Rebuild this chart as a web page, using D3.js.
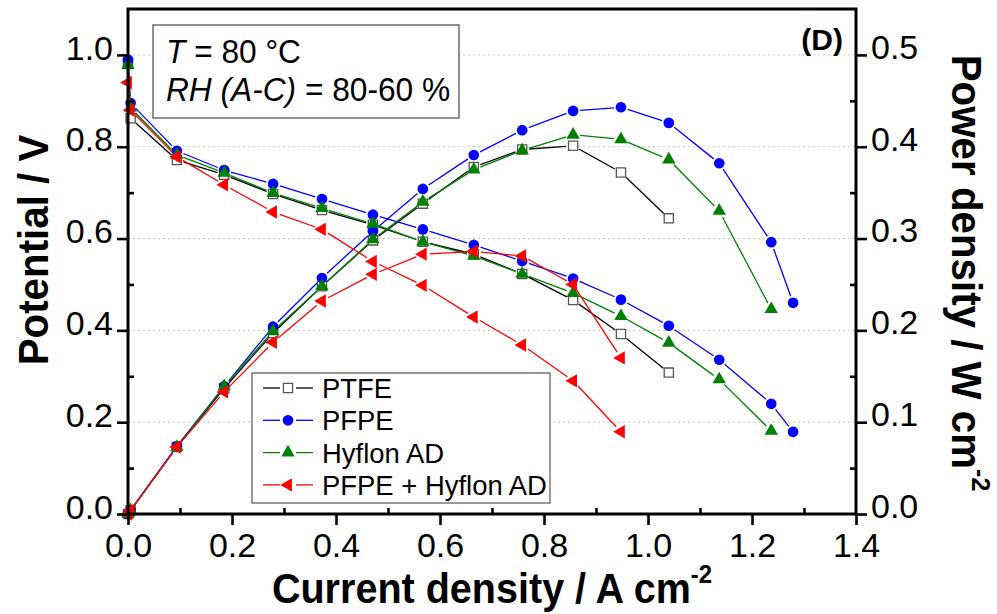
<!DOCTYPE html>
<html>
<head>
<meta charset="utf-8">
<script src="https://cdn.jsdelivr.net/npm/d3@7"></script>
<style>
  body { margin: 0; background: #fff; }
  svg { display: block; font-family: "Liberation Sans", Arial, sans-serif; }
</style>
</head>
<body>
<div id="chart"></div>
<script>
// current density (A cm-2), shared by all MEAs (shorter series stop early)
const currentDensity = [0, 0.005, 0.094, 0.185, 0.279, 0.373, 0.471, 0.567, 0.665, 0.758, 0.856, 0.948, 1.040, 1.137, 1.237, 1.279];

// cell potential (V)
const potentialPTFE   = [0.980, 0.862, 0.771, 0.739, 0.697, 0.662, 0.630, 0.593, 0.566, 0.523, 0.466, 0.392, 0.308];
const potentialPFPE   = [0.990, 0.895, 0.791, 0.749, 0.719, 0.686, 0.652, 0.620, 0.586, 0.551, 0.513, 0.467, 0.410, 0.336, 0.240, 0.179];
const potentialHyflon = [0.978, 0.885, 0.782, 0.743, 0.699, 0.666, 0.632, 0.593, 0.562, 0.523, 0.481, 0.431, 0.373, 0.293, 0.181];
const potentialMixed  = [0.940, 0.880, 0.778, 0.717, 0.658, 0.620, 0.550, 0.498, 0.429, 0.368, 0.290, 0.179];

// power density (W cm-2)
const powerPTFE   = [0, 0.004, 0.073, 0.137, 0.197, 0.248, 0.298, 0.338, 0.378, 0.397, 0.401, 0.372, 0.322];
const powerPFPE   = [0, 0.004, 0.074, 0.139, 0.204, 0.257, 0.308, 0.354, 0.391, 0.418, 0.439, 0.443, 0.426, 0.382, 0.296, 0.230];
const powerHyflon = [0, 0.004, 0.073, 0.139, 0.199, 0.248, 0.299, 0.340, 0.375, 0.396, 0.413, 0.408, 0.386, 0.330, 0.223];
const powerMixed  = [0, 0.004, 0.073, 0.133, 0.187, 0.232, 0.261, 0.283, 0.286, 0.281, 0.250, 0.170];

const seriesNames = ['PTFE', 'PFPE', 'Hyflon AD', 'PFPE + Hyflon AD'];

const xTicks = [0, 0.2, 0.4, 0.6, 0.8, 1.0, 1.2, 1.4];
const xMinorTicks = [0.1, 0.3, 0.5, 0.7, 0.9, 1.1, 1.3];
const leftTicks = [0, 0.2, 0.4, 0.6, 0.8, 1.0];
const leftMinorTicks = [0.1, 0.3, 0.5, 0.7, 0.9];
const rightTicks = [0, 0.1, 0.2, 0.3, 0.4, 0.5];
const rightMinorTicks = [0.05, 0.15, 0.25, 0.35, 0.45];

const width = 997, height = 614;
const plot = { left: 128, right: 856, top: 9, bottom: 514 };

const svg = d3.select('#chart').append('svg')
  .attr('width', width)
  .attr('height', height);

const x = d3.scaleLinear().domain([0, 1.4]).range([plot.left, plot.right]);
const yV = d3.scaleLinear().domain([0, 1.1]).range([plot.bottom, plot.top]);
const yP = d3.scaleLinear().domain([0, 0.55]).range([plot.bottom, plot.top]);

// dotted horizontal grid at the potential ticks
svg.append('g').selectAll('line')
  .data(leftTicks.filter(d => d > 0))
  .enter().append('line')
  .attr('x1', plot.left).attr('x2', plot.right)
  .attr('y1', d => yV(d)).attr('y2', d => yV(d))
  .attr('stroke', '#c8c8c8')
  .attr('stroke-width', 1)
  .attr('stroke-dasharray', '2,3');

// styles for the line+symbol series
const styles = [
  { name: seriesNames[0], color: '#000', symbol: d3.symbolSquare, size: 85, fill: '#fff', stroke: '#555', rotate: 0, V: potentialPTFE, P: powerPTFE },
  { name: seriesNames[1], color: '#0000ff', symbol: d3.symbolCircle, size: 90, fill: '#0000ff', stroke: 'none', rotate: 0, V: potentialPFPE, P: powerPFPE },
  { name: seriesNames[2], color: '#008000', symbol: d3.symbolTriangle, size: 78, fill: '#008000', stroke: 'none', rotate: 0, V: potentialHyflon, P: powerHyflon },
  { name: seriesNames[3], color: '#ff0000', symbol: d3.symbolTriangle, size: 78, fill: '#ff0000', stroke: 'none', rotate: -90, V: potentialMixed, P: powerMixed }
];

const gap = 7; // line stops short of each symbol, origin style

function segments(pts) {
  const out = [];
  for (let i = 0; i < pts.length - 1; i++) {
    const [x1, y1] = pts[i], [x2, y2] = pts[i + 1];
    const len = Math.hypot(x2 - x1, y2 - y1);
    if (len <= 2 * gap) continue;
    const ux = (x2 - x1) / len, uy = (y2 - y1) / len;
    out.push([x1 + ux * gap, y1 + uy * gap, x2 - ux * gap, y2 - uy * gap]);
  }
  return out;
}

function drawCurve(s, values, yScale) {
  const pts = values.map((v, i) => [x(currentDensity[i]), yScale(v)]);
  const g = svg.append('g');
  g.selectAll('line')
    .data(segments(pts))
    .enter().append('line')
    .attr('x1', d => d[0]).attr('y1', d => d[1])
    .attr('x2', d => d[2]).attr('y2', d => d[3])
    .attr('stroke', s.color)
    .attr('stroke-width', 1.3);
  g.selectAll('path')
    .data(pts)
    .enter().append('path')
    .attr('d', d3.symbol().type(s.symbol).size(s.size))
    .attr('transform', d => 'translate(' + d[0] + ',' + d[1] + ') rotate(' + s.rotate + ')')
    .attr('fill', s.fill)
    .attr('stroke', s.stroke)
    .attr('stroke-width', 1.3);
}

styles.forEach(s => {
  drawCurve(s, s.V, yV);
  drawCurve(s, s.P, yP);
});

// axes: major ticks outward, minor ticks inward
function styleAxis(g) {
  g.select('.domain').remove();
  g.selectAll('line').attr('stroke', '#000').attr('stroke-width', 2.6);
  g.selectAll('text').attr('font-size', 34).attr('fill', '#000')
    .attr('font-family', '"Liberation Sans", Arial, sans-serif');
}

const fmt = d3.format('.1f');

svg.append('g')
  .attr('transform', 'translate(' + plot.left + ',0)')
  .call(d3.axisLeft(yV).tickValues(leftTicks).tickFormat(fmt).tickSize(11).tickPadding(4))
  .call(styleAxis)
  .selectAll('text').attr('dy', '0.12em');
svg.append('g')
  .attr('transform', 'translate(' + plot.left + ',0)')
  .call(d3.axisLeft(yV).tickValues(leftMinorTicks).tickFormat('').tickSize(-6))
  .call(styleAxis);

svg.append('g')
  .attr('transform', 'translate(' + plot.right + ',0)')
  .call(d3.axisRight(yP).tickValues(rightTicks).tickFormat(fmt).tickSize(11).tickPadding(4))
  .call(styleAxis)
  .selectAll('text').attr('dy', '0.1em');
svg.append('g')
  .attr('transform', 'translate(' + plot.right + ',0)')
  .call(d3.axisRight(yP).tickValues(rightMinorTicks).tickFormat('').tickSize(-6))
  .call(styleAxis);

svg.append('g')
  .attr('transform', 'translate(0,' + plot.bottom + ')')
  .call(d3.axisBottom(x).tickValues(xTicks).tickFormat(fmt).tickSize(11).tickPadding(8))
  .call(styleAxis);
svg.append('g')
  .attr('transform', 'translate(0,' + plot.bottom + ')')
  .call(d3.axisBottom(x).tickValues(xMinorTicks).tickFormat('').tickSize(-6))
  .call(styleAxis);

// frame
svg.append('rect')
  .attr('x', plot.left).attr('y', plot.top)
  .attr('width', plot.right - plot.left)
  .attr('height', plot.bottom - plot.top)
  .attr('fill', 'none')
  .attr('stroke', '#000')
  .attr('stroke-width', 3);

// text helper: the original lettering is a bit narrow, so squeeze horizontally
function label(px, py, rot, sx, size, weight, anchor) {
  return svg.append('text')
    .attr('transform', 'translate(' + px + ',' + py + ') rotate(' + rot + ') scale(' + sx + ',1)')
    .attr('font-size', size)
    .attr('font-weight', weight)
    .attr('text-anchor', anchor)
    .attr('fill', '#000');
}

const xTitle = label(492, 603, 0, 0.92, 43, 'bold', 'middle');
xTitle.append('tspan').text('Current density / A cm');
xTitle.append('tspan').attr('font-size', 26).attr('dy', -20).text('-2');

label(48, 250, -90, 0.96, 42, 'bold', 'middle').text('Potential / V');

const pTitle = label(952, 273, 90, 0.96, 42, 'bold', 'middle');
pTitle.append('tspan').text('Power density / W cm');
pTitle.append('tspan').attr('font-size', 26).attr('dy', -20).text('-2');

label(843, 50, 0, 1, 30, 'bold', 'end').text('(D)');

// conditions box
svg.append('rect')
  .attr('x', 153).attr('y', 25)
  .attr('width', 306).attr('height', 93)
  .attr('fill', '#fff')
  .attr('stroke', '#555')
  .attr('stroke-width', 1.3);
const line1 = label(166, 63, 0, 0.96, 33, 'normal', 'start');
line1.append('tspan').attr('font-style', 'italic').text('T');
line1.append('tspan').text(' = 80 °C');
const line2 = label(166, 101, 0, 0.96, 33, 'normal', 'start');
line2.append('tspan').attr('font-style', 'italic').text('RH (A-C)');
line2.append('tspan').text(' = 80-60 %');

// legend
const legend = svg.append('g');
legend.append('rect')
  .attr('x', 252).attr('y', 373)
  .attr('width', 298).attr('height', 130)
  .attr('fill', '#fff')
  .attr('stroke', '#555')
  .attr('stroke-width', 1.2);

const rows = legend.selectAll('g.row')
  .data(styles)
  .enter().append('g')
  .attr('class', 'row')
  .attr('transform', (d, i) => 'translate(0,' + (388 + i * 32.3) + ')');
rows.append('line')
  .attr('x1', 263).attr('x2', 280).attr('y1', 0).attr('y2', 0)
  .attr('stroke', d => d.color).attr('stroke-width', 1.3);
rows.append('line')
  .attr('x1', 296).attr('x2', 313).attr('y1', 0).attr('y2', 0)
  .attr('stroke', d => d.color).attr('stroke-width', 1.3);
rows.append('path')
  .attr('d', d => d3.symbol().type(d.symbol).size(d.size)())
  .attr('transform', d => 'translate(288,0) rotate(' + d.rotate + ')')
  .attr('fill', d => d.fill)
  .attr('stroke', d => d.stroke)
  .attr('stroke-width', 1.3);
rows.append('text')
  .attr('transform', 'translate(322,10) scale(0.98,1)')
  .attr('font-size', 28)
  .attr('fill', '#000')
  .text(d => d.name);
</script>
</body>
</html>
